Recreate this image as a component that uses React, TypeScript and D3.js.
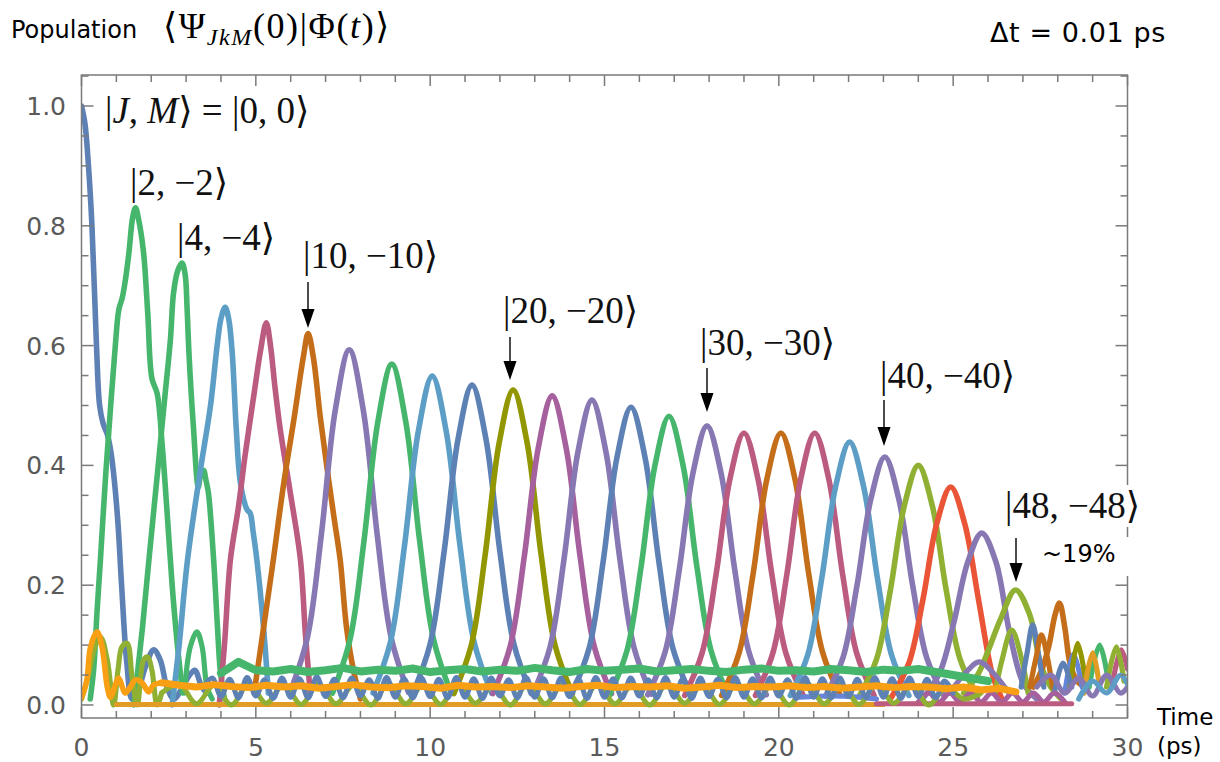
import React, { useEffect, useRef } from 'react';
import * as d3 from 'd3';

// axis ticks
const xTicks = [0, 5, 10, 15, 20, 25, 30];
const yTicks = [0, 0.2, 0.4, 0.6, 0.8, 1.0];
const yTickLabels = ['0.0', '0.2', '0.4', '0.6', '0.8', '1.0'];

// main peaks |J,-J>, J = 0..50, points [t (ps), population]
const peakJ = [0, 2, 4, 6, 8, 10, 12, 14, 16, 18, 20, 22, 24, 26, 28, 30, 32, 34, 36, 38, 40, 42, 44, 46, 48, 50];
const peakColors = ['#5E81B5', '#47B66D', '#47B66D', '#5D9EC7', '#BC5B80', '#C56E1A', '#8778B3', '#47B66D', '#5D9EC7', '#5E81B5',
  '#929600', '#A5609D', '#8778B3', '#5E81B5', '#47B66D', '#8778B3', '#BC5B80', '#C56E1A', '#BC5B80', '#5D9EC7',
  '#8778B3', '#8FB032', '#E95536', '#8778B3', '#8FB032', '#C56E1A'];
const peakCurves: [number, number][][] = [
  [[0, 1.0], [0.1, 0.97], [0.2, 0.9], [0.3, 0.8], [0.43, 0.6], [0.52, 0.5], [0.62, 0.47], [0.75, 0.45], [0.85, 0.42], [0.95, 0.37], [1.05, 0.3], [1.15, 0.2], [1.3, 0.07], [1.45, 0.01], [1.6, 0.02], [1.83, 0.063], [2.07, 0.092], [2.26, 0.075], [2.45, 0.03], [2.65, 0.01], [2.9, 0.03], [3.1, 0.05], [3.25, 0.058], [3.45, 0.03], [3.6, 0.02]],
  [[0.25, 0.01], [0.35, 0.06], [0.45, 0.16], [0.54, 0.24], [0.7, 0.39], [0.85, 0.51], [0.97, 0.6], [1.07, 0.66], [1.17, 0.68], [1.26, 0.71], [1.36, 0.755], [1.47, 0.815], [1.55, 0.83], [1.64, 0.81], [1.78, 0.755], [1.9, 0.654], [2.02, 0.545], [2.17, 0.52], [2.31, 0.437], [2.45, 0.326], [2.6, 0.2], [2.75, 0.1], [2.9, 0.02]],
  [[1.5, 0.0], [1.6, 0.05], [1.75, 0.13], [1.93, 0.24], [2.2, 0.4], [2.4, 0.52], [2.55, 0.61], [2.64, 0.688], [2.76, 0.725], [2.88, 0.738], [2.97, 0.72], [3.03, 0.66], [3.08, 0.59], [3.21, 0.464], [3.35, 0.364], [3.42, 0.385], [3.5, 0.392], [3.57, 0.375], [3.64, 0.354], [3.79, 0.242], [3.9, 0.13], [3.98, 0.058], [4.1, 0.01]],
  [[2.6, 0.0], [2.8, 0.1], [3.04, 0.242], [3.41, 0.392], [3.7, 0.5], [3.89, 0.6], [4.0, 0.645], [4.12, 0.664], [4.22, 0.645], [4.32, 0.59], [4.44, 0.46], [4.56, 0.37], [4.75, 0.326], [4.84, 0.32], [4.92, 0.29], [5.03, 0.242], [5.22, 0.13], [5.36, 0.02]],
  [[3.95, 0.0], [4.1, 0.1], [4.27, 0.242], [4.5, 0.33], [4.7, 0.42], [4.95, 0.52], [5.13, 0.59], [5.3, 0.638], [5.42, 0.6], [5.55, 0.53], [5.7, 0.46], [5.99, 0.354], [6.28, 0.242], [6.42, 0.12], [6.56, 0.02]],
  [[4.95, 0.02], [5.2, 0.12], [5.5, 0.242], [5.8, 0.37], [6.1, 0.48], [6.36, 0.58], [6.5, 0.62], [6.65, 0.58], [6.85, 0.48], [7.05, 0.392], [7.25, 0.31], [7.42, 0.242], [7.6, 0.13], [7.8, 0.058], [8.0, 0.01]],
  [[5.98, 0.021], [6.48, 0.113], [6.88, 0.285], [7.28, 0.493], [7.68, 0.593], [8.08, 0.493], [8.48, 0.285], [8.88, 0.113], [9.38, 0.021]],
  [[7.2, 0.02], [7.7, 0.109], [8.1, 0.273], [8.5, 0.473], [8.9, 0.569], [9.3, 0.473], [9.7, 0.273], [10.1, 0.109], [10.6, 0.02]],
  [[8.36, 0.02], [8.86, 0.105], [9.26, 0.264], [9.66, 0.457], [10.06, 0.549], [10.46, 0.457], [10.86, 0.264], [11.26, 0.105], [11.76, 0.02]],
  [[9.5, 0.019], [10.0, 0.102], [10.4, 0.256], [10.8, 0.444], [11.2, 0.534], [11.6, 0.444], [12.0, 0.256], [12.4, 0.102], [12.9, 0.019]],
  [[10.68, 0.019], [11.18, 0.1], [11.58, 0.252], [11.98, 0.438], [12.38, 0.526], [12.78, 0.438], [13.18, 0.252], [13.58, 0.1], [14.08, 0.019]],
  [[11.8, 0.019], [12.3, 0.099], [12.7, 0.248], [13.1, 0.429], [13.5, 0.516], [13.9, 0.429], [14.3, 0.248], [14.7, 0.099], [15.2, 0.019]],
  [[12.94, 0.018], [13.44, 0.097], [13.84, 0.244], [14.24, 0.423], [14.64, 0.509], [15.04, 0.423], [15.44, 0.244], [15.84, 0.097], [16.34, 0.018]],
  [[14.06, 0.018], [14.56, 0.095], [14.96, 0.239], [15.36, 0.414], [15.76, 0.497], [16.16, 0.414], [16.56, 0.239], [16.96, 0.095], [17.46, 0.018]],
  [[15.15, 0.017], [15.65, 0.092], [16.05, 0.231], [16.45, 0.401], [16.85, 0.482], [17.25, 0.401], [17.65, 0.231], [18.05, 0.092], [18.55, 0.017]],
  [[16.24, 0.017], [16.74, 0.089], [17.14, 0.224], [17.54, 0.388], [17.94, 0.466], [18.34, 0.388], [18.74, 0.224], [19.14, 0.089], [19.64, 0.017]],
  [[17.3, 0.016], [17.8, 0.087], [18.2, 0.218], [18.6, 0.378], [19.0, 0.454], [19.4, 0.378], [19.8, 0.218], [20.2, 0.087], [20.7, 0.016]],
  [[18.36, 0.016], [18.86, 0.087], [19.26, 0.218], [19.66, 0.378], [20.06, 0.454], [20.46, 0.378], [20.86, 0.218], [21.26, 0.087], [21.76, 0.016]],
  [[19.33, 0.016], [19.83, 0.087], [20.23, 0.218], [20.63, 0.378], [21.03, 0.454], [21.43, 0.378], [21.83, 0.218], [22.23, 0.087], [22.73, 0.016]],
  [[20.33, 0.016], [20.83, 0.084], [21.23, 0.211], [21.63, 0.365], [22.03, 0.439], [22.43, 0.365], [22.83, 0.211], [23.23, 0.084], [23.73, 0.016]],
  [[21.34, 0.015], [21.84, 0.079], [22.24, 0.199], [22.64, 0.344], [23.04, 0.414], [23.44, 0.344], [23.84, 0.199], [24.24, 0.079], [24.74, 0.015]],
  [[22.3, 0.014], [22.8, 0.076], [23.2, 0.192], [23.6, 0.333], [24.0, 0.4], [24.4, 0.333], [24.8, 0.192], [25.2, 0.076], [25.7, 0.014]],
  [[23.23, 0.013], [23.73, 0.07], [24.13, 0.175], [24.53, 0.303], [24.93, 0.364], [25.33, 0.303], [25.73, 0.175], [26.13, 0.05], [26.4, 0.01]],
  [[24.12, 0.01], [24.62, 0.055], [25.02, 0.138], [25.42, 0.239], [25.82, 0.287], [26.22, 0.24], [26.62, 0.12], [27.02, 0.035], [27.4, 0.01]],
  [[25.3, 0.02], [25.7, 0.05], [26.0, 0.09], [26.35, 0.142], [26.79, 0.192], [27.2, 0.15], [27.5, 0.07], [27.8, 0.03], [28.1, 0.01]],
  [[27.3, 0.03], [27.55, 0.06], [27.75, 0.1], [27.92, 0.15], [28.05, 0.17], [28.2, 0.13], [28.35, 0.07], [28.55, 0.04], [28.8, 0.03]],
];

// small revival bumps and the tangle near the end
const bumpColors = ['#47B66D', '#8FB032', '#8FB032', '#5E81B5', '#C56E1A', '#8778B3', '#6685D9', '#929600', '#47B66D', '#E09C24',
  '#BC5B80', '#8FB032', '#5E81B5', '#8778B3', '#5D9EC7', '#A5609D', '#6685D9'];
const bumpCurves: [number, number][][] = [
  [[2.95, 0.02], [3.12, 0.097], [3.31, 0.122], [3.46, 0.097], [3.6, 0.03], [3.75, 0.01]],
  [[0, 0.01], [0.2, 0.05], [0.4, 0.1], [0.55, 0.113], [0.74, 0.075], [0.92, 0.0], [1.05, 0.06], [1.16, 0.097], [1.31, 0.103], [1.45, 0.047], [1.6, 0.0], [1.78, 0.075], [1.9, 0.08], [2.02, 0.058], [2.17, 0.0], [2.3, 0.02]],
  [[26.2, 0.02], [26.4, 0.075], [26.68, 0.125], [26.97, 0.075], [27.15, 0.02]],
  [[26.95, 0.03], [27.12, 0.087], [27.28, 0.134], [27.44, 0.087], [27.6, 0.03]],
  [[27.2, 0.03], [27.38, 0.08], [27.53, 0.117], [27.7, 0.08], [27.85, 0.03]],
  [[24.9, 0.02], [25.3, 0.05], [25.75, 0.072], [26.2, 0.05], [26.6, 0.02]],
  [[28.2, 0.02], [28.45, 0.085], [28.7, 0.03]],
  [[28.35, 0.03], [28.57, 0.103], [28.8, 0.04]],
  [[28.9, 0.03], [29.2, 0.1], [29.45, 0.04]],
  [[28.75, 0.02], [29.0, 0.087], [29.2, 0.03]],
  [[29.55, 0.03], [29.82, 0.092], [30.0, 0.06]],
  [[29.4, 0.03], [29.68, 0.097], [29.9, 0.04]],
  [[27.9, 0.02], [28.15, 0.07], [28.4, 0.03]],
  [[27.4, 0.03], [27.8, 0.05], [28.2, 0.02], [28.6, 0.045], [29.0, 0.015], [29.4, 0.05], [29.8, 0.02], [30.0, 0.03]],
  [[28.6, 0.01], [29.0, 0.04], [29.4, 0.02], [29.8, 0.05], [30.0, 0.035]],
  [[24.0, 0.005], [24.3, 0.02], [24.6, 0.005], [24.9, 0.02], [25.2, 0.005], [25.5, 0.02], [25.8, 0.005], [26.1, 0.02], [26.4, 0.005], [26.7, 0.02], [27.0, 0.005], [27.3, 0.02], [27.6, 0.005], [27.9, 0.02], [28.2, 0.005]],
  [[20.6, 0.013], [21.5, 0.015], [22.3, 0.013], [22.8, 0.01]],
];

// flat floor lines at zero
const orangeFloor: [number, number][] = [[1.0, 0.001], [23.0, 0.001]];
const pinkFloor: [number, number][] = [[22.8, 0.002], [28.4, 0.002]];

// background "noise" bands, sampled on a regular time grid
const oliveStart = 2.3, oliveStep = 0.5;
const oliveNoise = [0.02, 0.035, 0.002, 0.033, 0.0, 0.036, 0.003, 0.034, 0.001, 0.035,
  0.002, 0.033, 0.0, 0.036, 0.002, 0.034, 0.001, 0.035, 0.003, 0.033,
  0.0, 0.036, 0.002, 0.034, 0.001, 0.035, 0.002, 0.033, 0.0, 0.036,
  0.003, 0.034, 0.001, 0.035, 0.002, 0.033, 0.0, 0.036, 0.002, 0.034,
  0.001, 0.035, 0.003, 0.033, 0.0, 0.03, 0.01, 0.02];
const blueStart = 3.5, blueStep = 0.25;
const blueNoise = [0.03, 0.045, 0.014, 0.043, 0.012, 0.046, 0.015, 0.042, 0.011, 0.045,
  0.013, 0.044, 0.012, 0.047, 0.014, 0.043, 0.012, 0.045, 0.015, 0.042,
  0.011, 0.046, 0.013, 0.044, 0.012, 0.045, 0.014, 0.043, 0.012, 0.046,
  0.013, 0.044, 0.011, 0.045, 0.015, 0.042, 0.012, 0.046, 0.013, 0.044,
  0.012, 0.045, 0.014, 0.043, 0.011, 0.046, 0.013, 0.044, 0.012, 0.045,
  0.015, 0.042, 0.012, 0.046, 0.013, 0.044, 0.011, 0.045, 0.014, 0.043,
  0.012, 0.046, 0.013, 0.044, 0.012, 0.045, 0.015, 0.042, 0.011, 0.046,
  0.013, 0.044, 0.012, 0.045, 0.014, 0.043, 0.012, 0.046, 0.013, 0.044,
  0.011, 0.045, 0.014, 0.043, 0.012, 0.04, 0.02];
const greenStart = 4.0, greenStep = 0.5;
const greenNoise = [0.053, 0.072, 0.058, 0.056, 0.06, 0.055, 0.058, 0.062, 0.056, 0.059,
  0.057, 0.061, 0.055, 0.058, 0.06, 0.056, 0.059, 0.057, 0.062, 0.058,
  0.055, 0.06, 0.057, 0.059, 0.061, 0.056, 0.058, 0.06, 0.057, 0.055,
  0.059, 0.061, 0.057, 0.058, 0.056, 0.06, 0.058, 0.055, 0.059, 0.057,
  0.06, 0.055, 0.05, 0.045, 0.04];
const orangeEarly: [number, number][] = [[0, 0.012], [0.15, 0.04], [0.26, 0.097], [0.45, 0.122], [0.59, 0.097], [0.74, 0.03], [0.83, 0.013], [0.97, 0.033], [1.06, 0.045], [1.26, 0.02], [1.4, 0.03], [1.55, 0.042], [1.74, 0.037], [1.92, 0.022], [2.06, 0.033], [2.3, 0.037]];
const orangeStart = 2.3, orangeStep = 0.5;
const orangeNoise = [0.037, 0.033, 0.03, 0.034, 0.031, 0.029, 0.033, 0.03, 0.032, 0.028,
  0.031, 0.034, 0.03, 0.029, 0.032, 0.031, 0.028, 0.033, 0.03, 0.031,
  0.029, 0.032, 0.03, 0.028, 0.031, 0.033, 0.029, 0.031, 0.03, 0.032,
  0.028, 0.03, 0.033, 0.029, 0.031, 0.03, 0.032, 0.029, 0.031, 0.028,
  0.03, 0.032, 0.029, 0.031, 0.03, 0.027, 0.03, 0.025, 0.028, 0.022];

const ketLabels = ['|2, −2⟩', '|4, −4⟩', '|10, −10⟩', '|20, −20⟩', '|30, −30⟩', '|40, −40⟩', '|48, −48⟩'];

const SANS = "'DejaVu Sans', sans-serif";
const SERIF = "'Liberation Serif', 'DejaVu Serif', serif";

export default function App() {
  const ref = useRef<SVGSVGElement>(null);

  useEffect(() => {
    const svg = d3.select(ref.current);
    svg.selectAll('*').remove();

    const x = d3.scaleLinear().domain([0, 30]).range([81.5, 1127.5]);
    const y = d3.scaleLinear().domain([0, 1]).range([705, 106]);
    const top = 75, bottom = 718;

    svg.append('defs').append('clipPath').attr('id', 'plotclip')
      .append('rect').attr('x', x(0)).attr('y', top).attr('width', x(30) - x(0)).attr('height', bottom - top);

    const smooth = d3.line<[number, number]>().x(d => x(d[0])).y(d => y(d[1])).curve(d3.curveCatmullRom.alpha(0.5));
    const straight = d3.line<[number, number]>().x(d => x(d[0])).y(d => y(d[1]));
    const sampled = (vals: number[], t0: number, dt: number) => vals.map((v, i) => [t0 + i * dt, v] as [number, number]);

    const plot = svg.append('g').attr('clip-path', 'url(#plotclip)');
    const draw = (pts: [number, number][], color: string, w: number, gen = smooth) =>
      plot.append('path').attr('d', gen(pts)).attr('fill', 'none').attr('stroke', color)
        .attr('stroke-width', w).attr('stroke-linejoin', 'round').attr('stroke-linecap', 'round');

    peakCurves.forEach((c, i) => draw(c, peakColors[i], 5.6));
    bumpCurves.forEach((c, i) => draw(c, bumpColors[i], 5.2));
    draw(orangeFloor, '#E09C24', 5, straight);
    draw(pinkFloor, '#BC5B80', 5, straight);
    draw(sampled(oliveNoise, oliveStart, oliveStep), '#8FB032', 5);
    draw(sampled(blueNoise, blueStart, blueStep), '#5E81B5', 5);
    draw(sampled(greenNoise, greenStart, greenStep), '#47B66D', 8, straight);
    draw(orangeEarly, '#F89F13', 5.6);
    draw(sampled(orangeNoise, orangeStart, orangeStep), '#F89F13', 7, straight);

    // frame + ticks
    const axis = svg.append('g').attr('stroke', '#7a7a7a').attr('stroke-width', 1.5);
    axis.append('rect').attr('x', x(0)).attr('y', top).attr('width', x(30) - x(0)).attr('height', bottom - top)
      .attr('fill', 'none');
    d3.range(0, 31).forEach(t => {
      const len = t % 5 === 0 ? 11 : 7;
      axis.append('line').attr('x1', x(t)).attr('x2', x(t)).attr('y1', bottom).attr('y2', bottom - len);
      axis.append('line').attr('x1', x(t)).attr('x2', x(t)).attr('y1', top).attr('y2', top + len);
    });
    d3.range(0, 22).forEach(k => {
      const v = k * 0.05;
      const len = k % 4 === 0 ? 12 : 7;
      axis.append('line').attr('x1', x(0)).attr('x2', x(0) + len).attr('y1', y(v)).attr('y2', y(v));
      axis.append('line').attr('x1', x(30)).attr('x2', x(30) - len).attr('y1', y(v)).attr('y2', y(v));
    });

    svg.append('g').selectAll('text').data(yTicks).join('text')
      .attr('x', 66).attr('y', d => y(d) + 9).attr('text-anchor', 'end')
      .attr('font-family', SANS).attr('font-size', 25).attr('fill', '#5a5a5a')
      .text((d, i) => yTickLabels[i]);
    svg.append('g').selectAll('text').data(xTicks).join('text')
      .attr('x', d => x(d)).attr('y', 756).attr('text-anchor', 'middle')
      .attr('font-family', SANS).attr('font-size', 25).attr('fill', '#5a5a5a')
      .text(d => String(d));

    svg.append('text').attr('x', 1157).attr('y', 725).attr('font-family', SANS).attr('font-size', 23).text('Time');
    svg.append('text').attr('x', 1157).attr('y', 754).attr('font-family', SANS).attr('font-size', 23).text('(ps)');

    // title
    svg.append('text').attr('x', 11).attr('y', 38).attr('font-family', SANS).attr('font-size', 24).text('Population');
    const tt = svg.append('text').attr('x', 163).attr('y', 38).attr('font-family', SERIF).attr('font-size', 36)
      .attr('letter-spacing', 1.6);
    tt.append('tspan').text('⟨Ψ');
    tt.append('tspan').text('JkM').attr('font-style', 'italic').attr('font-size', 24).attr('dy', 7);
    tt.append('tspan').text('(0)|Φ(').attr('dy', -7);
    tt.append('tspan').text('t').attr('font-style', 'italic');
    tt.append('tspan').text(')⟩');
    svg.append('text').attr('x', 990).attr('y', 42).attr('font-family', SANS).attr('font-size', 27)
      .attr('letter-spacing', 0.6).text('Δt = 0.01 ps');

    // annotations
    svg.append('rect').attr('x', 1000).attr('y', 485).attr('width', 140).attr('height', 42).attr('fill', '#fff');
    svg.append('rect').attr('x', 1036).attr('y', 537).attr('width', 94).attr('height', 39).attr('fill', '#fff');

    const k0 = svg.append('text').attr('x', 105).attr('y', 123).attr('font-family', SERIF).attr('font-size', 37).attr('fill', '#111');
    k0.append('tspan').text('|');
    k0.append('tspan').text('J').attr('font-style', 'italic');
    k0.append('tspan').text(', ');
    k0.append('tspan').text('M').attr('font-style', 'italic');
    k0.append('tspan').text('⟩ = |0, 0⟩');

    const ketPos = [[130, 195], [177, 250], [303, 268], [503, 323], [700, 355], [880, 388], [1005, 518]];
    ketLabels.forEach((s, i) => {
      svg.append('text').attr('x', ketPos[i][0]).attr('y', ketPos[i][1]).attr('font-family', SERIF)
        .attr('font-size', 37).attr('fill', '#111').text(s);
    });

    const arrows = [[308, 282, 328], [510, 337, 380], [707, 368, 412], [884, 400, 446], [1016, 538, 582]];
    arrows.forEach(([ax, y1, tip]) => {
      svg.append('line').attr('x1', ax).attr('x2', ax).attr('y1', y1).attr('y2', tip - 15)
        .attr('stroke', '#000').attr('stroke-width', 1.4);
      svg.append('path').attr('d', `M${ax - 6.5},${tip - 19}L${ax + 6.5},${tip - 19}L${ax},${tip}Z`).attr('fill', '#000');
    });

    svg.append('text').attr('x', 1042).attr('y', 562).attr('font-family', SANS).attr('font-size', 24).text('~19%');
  }, []);

  return <svg ref={ref} width={1220} height={762} style={{ position: 'absolute', left: 0, top: 0, background: '#fff' }} />;
}
